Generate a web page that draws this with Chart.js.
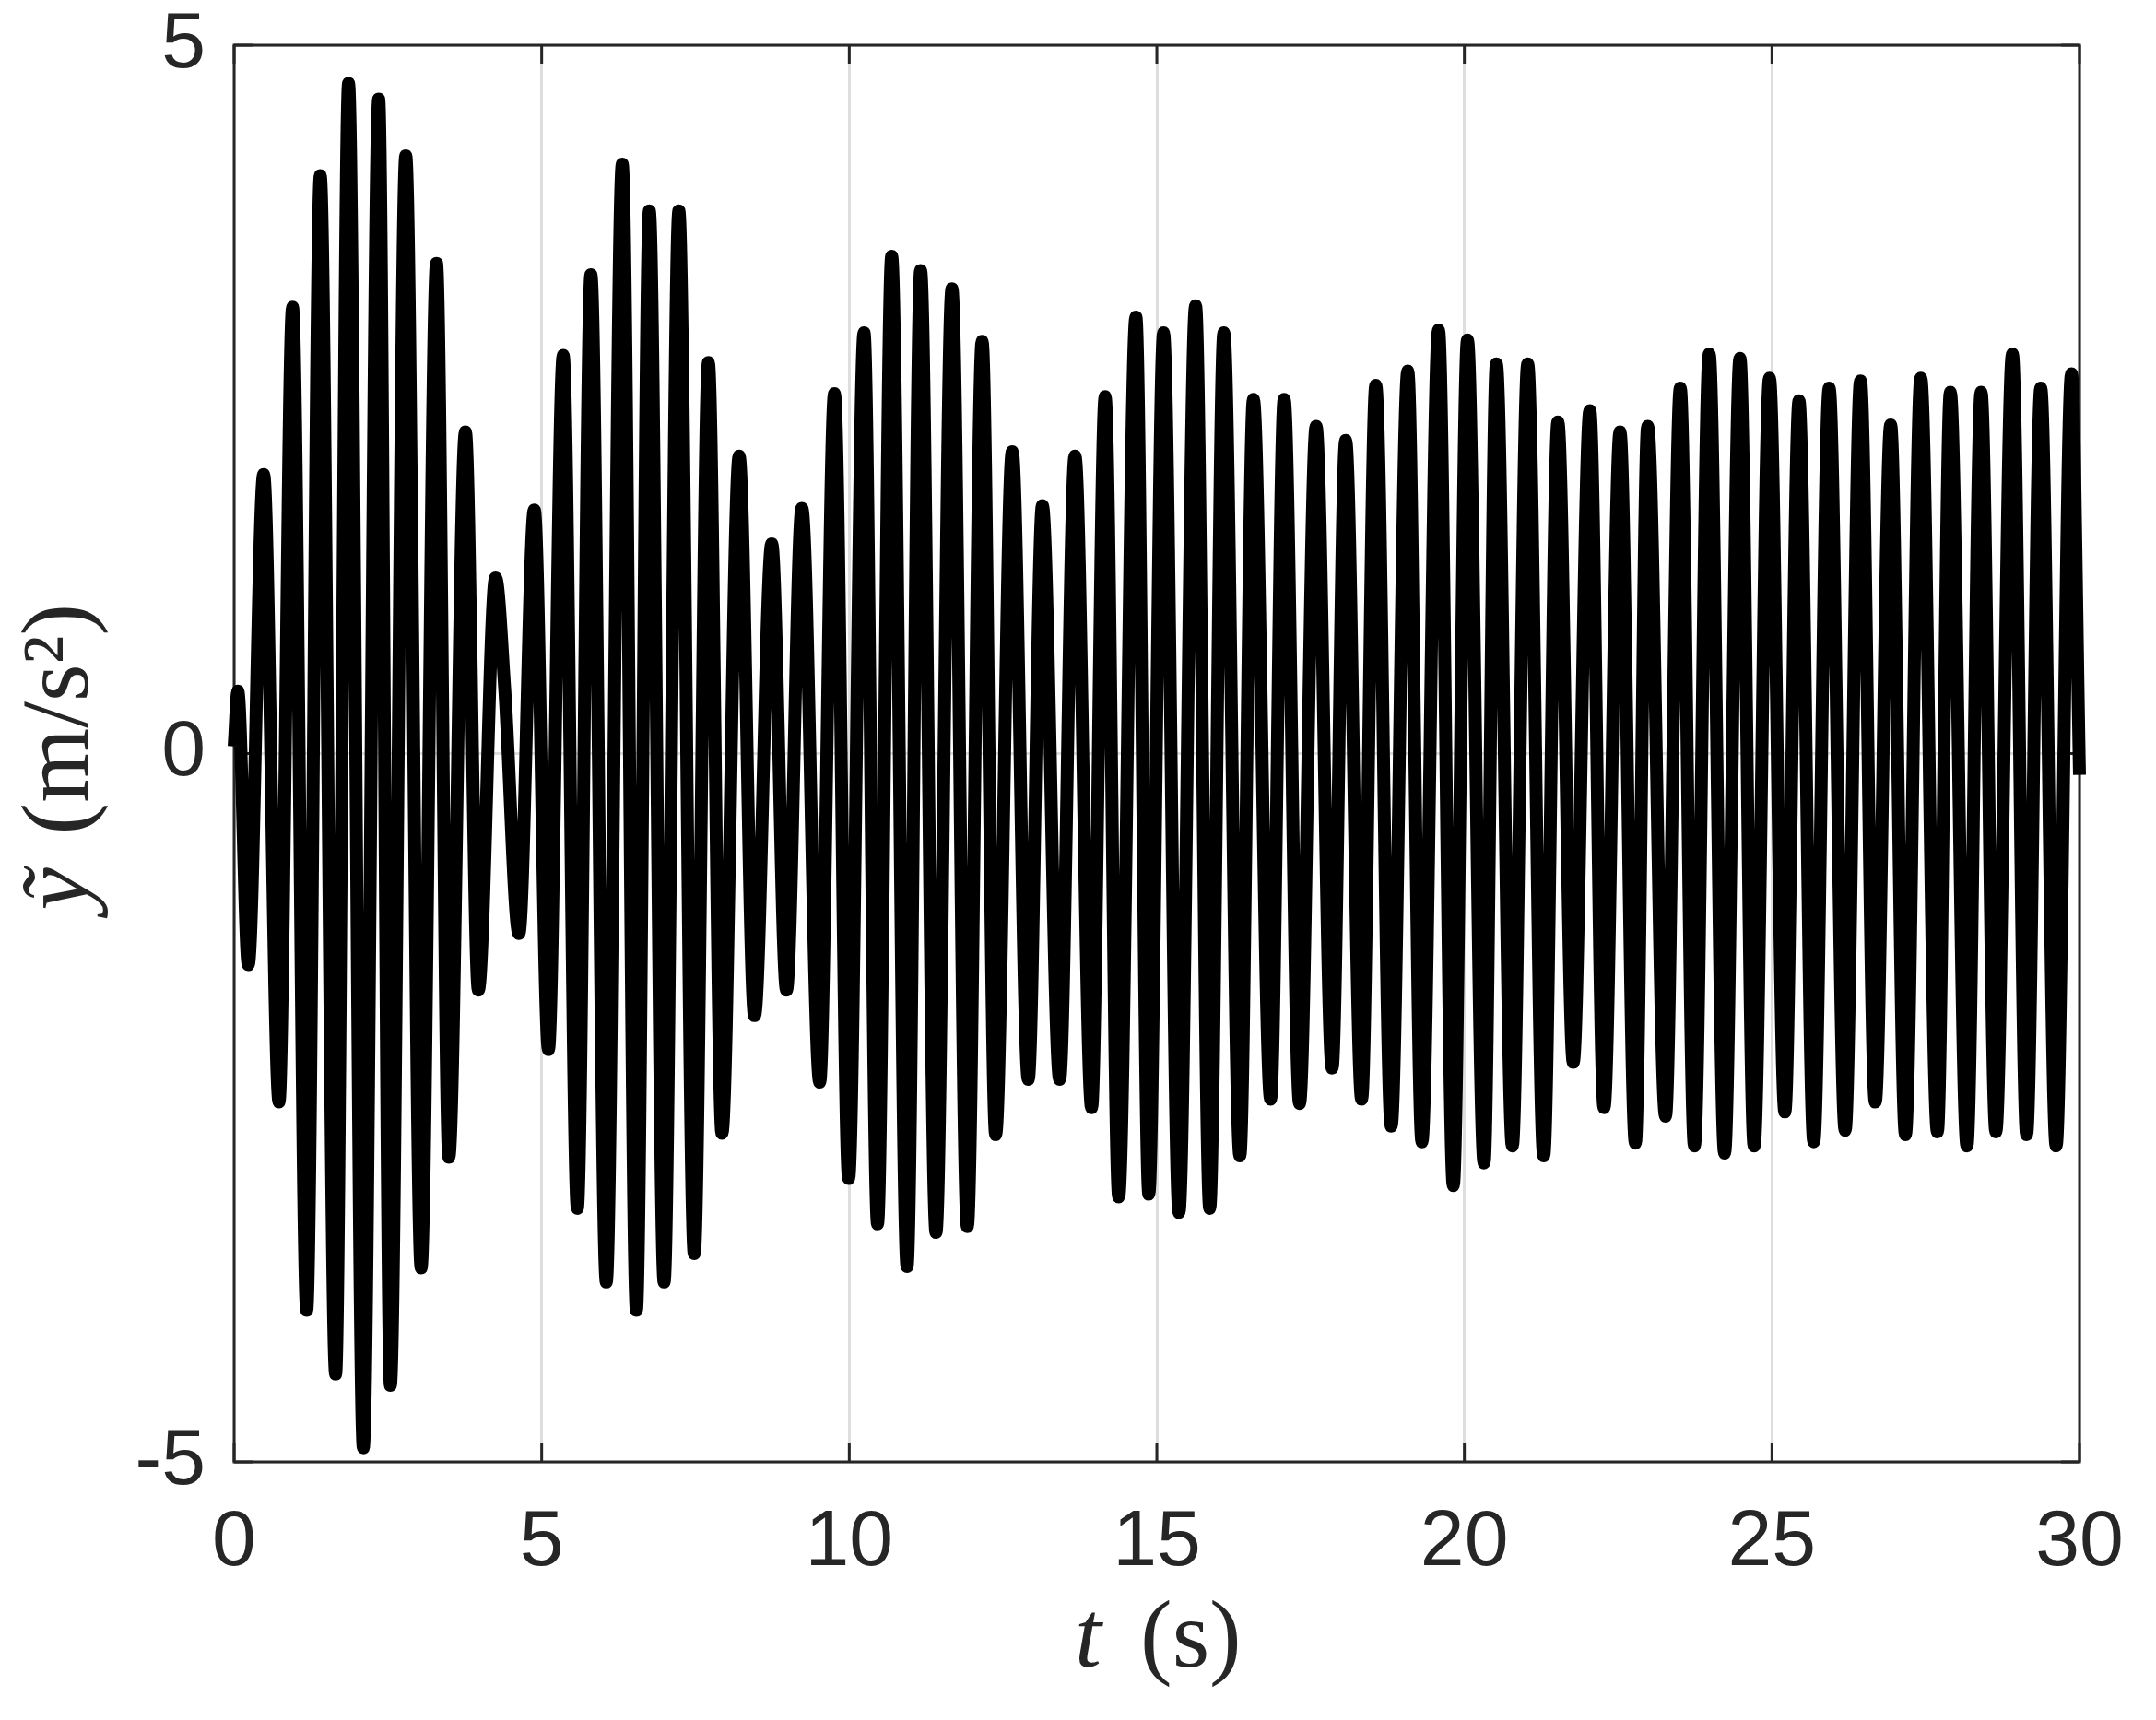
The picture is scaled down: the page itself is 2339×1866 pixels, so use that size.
<!DOCTYPE html>
<html>
<head>
<meta charset="utf-8">
<script src="https://cdn.jsdelivr.net/npm/chart.js@4.4.1/dist/chart.umd.min.js"></script>
<style>
  html, body { margin: 0; padding: 0; background: #ffffff; }
  #c { display: block; }
</style>
</head>
<body>
<canvas id="c" width="2339" height="1866" style="width:2339px;height:1866px"></canvas>
<script>
// ---- data (turning points of the signal) ----
const timeS = [
  0, 0.06, 0.23, 0.48, 0.73, 0.95, 1.18, 1.40, 1.65, 1.86,
  2.10, 2.35, 2.54, 2.79, 3.04, 3.29, 3.49, 3.76, 3.97, 4.25,
  4.40, 4.63, 4.88, 5.11, 5.35, 5.58, 5.80, 6.05, 6.31, 6.54,
  6.75, 6.99, 7.23, 7.48, 7.71, 7.93, 8.21, 8.46, 8.74, 8.98,
  9.23, 9.52, 9.76, 9.99, 10.24, 10.46, 10.69, 10.94, 11.16, 11.41,
  11.67, 11.92, 12.16, 12.38, 12.65, 12.91, 13.14, 13.42, 13.67, 13.94,
  14.16, 14.38, 14.66, 14.87, 15.11, 15.36, 15.63, 15.86, 16.09, 16.35,
  16.57, 16.85, 17.07, 17.32, 17.59, 17.85, 18.07, 18.33, 18.56, 18.81,
  19.08, 19.31, 19.58, 19.82, 20.05, 20.32, 20.52, 20.78, 21.03, 21.29,
  21.52, 21.77, 22.04, 22.27, 22.53, 22.78, 22.98, 23.27, 23.51, 23.74,
  23.98, 24.23, 24.48, 24.71, 24.96, 25.21, 25.44, 25.68, 25.93, 26.19,
  26.44, 26.68, 26.93, 27.17, 27.42, 27.69, 27.90, 28.17, 28.40, 28.64,
  28.91, 29.14, 29.37, 29.62, 29.87, 30.0
];
const accel = [
  0.05, 0.44, -1.49, 1.97, -2.46, 3.15, -3.93, 4.08, -4.38, 4.73,
  -4.90, 4.62, -4.46, 4.22, -3.63, 3.46, -2.85, 2.27, -1.67, 1.24,
  0.45, -1.27, 1.72, -2.09, 2.81, -3.21, 3.38, -3.73, 4.16, -3.93,
  3.83, -3.73, 3.83, -3.53, 2.76, -2.68, 2.10, -1.85, 1.48, -1.67,
  1.73, -2.32, 2.54, -3.00, 2.97, -3.32, 3.51, -3.62, 3.41, -3.38,
  3.28, -3.34, 2.91, -2.69, 2.13, -2.30, 1.75, -2.30, 2.10, -2.50,
  2.52, -3.13, 3.08, -3.11, 2.97, -3.24, 3.16, -3.21, 2.97, -2.84,
  2.50, -2.44, 2.50, -2.47, 2.31, -2.22, 2.21, -2.44, 2.60, -2.63,
  2.70, -2.74, 2.99, -3.05, 2.92, -2.89, 2.75, -2.77, 2.75, -2.84,
  2.34, -2.18, 2.42, -2.50, 2.27, -2.75, 2.31, -2.56, 2.58, -2.77,
  2.82, -2.82, 2.79, -2.77, 2.65, -2.53, 2.49, -2.74, 2.58, -2.66,
  2.63, -2.46, 2.32, -2.69, 2.65, -2.67, 2.55, -2.77, 2.55, -2.67,
  2.82, -2.69, 2.58, -2.77, 2.68, -0.15
];
const xTicks = [0, 5, 10, 15, 20, 25, 30];
const yTicks = [-5, 0, 5];
const xTitleVar = 't';
const xTitleUnit = '(s)';
const yTitleVar = 'ỹ';
const yTitleUnit = '(m/s²)';

// ---- styling ----
const AXIS_COLOR = '#262626';
const GRID_COLOR = '#dedede';
const TICK_FONT = { family: '"Liberation Sans", Arial, Helvetica, sans-serif', size: 86 };
const TITLE_SIZE = 104;
const TITLE_FAMILY = '"Liberation Serif", "Times New Roman", serif';

const points = timeS.map((t, i) => ({ x: t, y: accel[i] }));

const framePlugin = {
  id: 'frame',
  beforeDatasetsDraw(chart) {
    const { ctx, chartArea: a, scales } = chart;
    ctx.save();
    ctx.strokeStyle = AXIS_COLOR;
    ctx.lineWidth = 3;
    const L = 20;
    ctx.beginPath();
    xTicks.forEach(v => {
      const px = scales.x.getPixelForValue(v);
      ctx.moveTo(px, a.bottom); ctx.lineTo(px, a.bottom - L);
      ctx.moveTo(px, a.top); ctx.lineTo(px, a.top + L);
    });
    yTicks.forEach(v => {
      const py = scales.y.getPixelForValue(v);
      ctx.moveTo(a.left, py); ctx.lineTo(a.left + L, py);
      ctx.moveTo(a.right, py); ctx.lineTo(a.right - L, py);
    });
    ctx.stroke();
    ctx.strokeRect(a.left, a.top, a.right - a.left, a.bottom - a.top);
    ctx.restore();
  }
};

const titlePlugin = {
  id: 'titles',
  afterDraw(chart) {
    const { ctx, chartArea: a } = chart;
    ctx.save();
    ctx.fillStyle = AXIS_COLOR;
    ctx.textBaseline = 'alphabetic';
    ctx.textAlign = 'left';
    const italic = 'italic ' + TITLE_SIZE + 'px ' + TITLE_FAMILY;
    const upright = TITLE_SIZE + 'px ' + TITLE_FAMILY;
    // x-axis title
    const cx = (a.left + a.right) / 2;
    const by = a.bottom + 222;
    ctx.font = italic;
    ctx.fillText(xTitleVar, cx - 89, by);
    ctx.font = upright;
    ctx.fillText(xTitleUnit, cx - 18, by);
    // y-axis title (rotated)
    ctx.translate(95, (a.top + a.bottom) / 2);
    ctx.rotate(-Math.PI / 2);
    ctx.font = italic;
    ctx.fillText(yTitleVar, -170, 0);
    ctx.font = upright;
    ctx.fillText(yTitleUnit, -88, 0);
    ctx.restore();
  }
};

new Chart(document.getElementById('c'), {
  type: 'line',
  data: {
    datasets: [{
      data: points,
      borderColor: '#000000',
      borderWidth: 14,
      pointRadius: 0,
      fill: false,
      cubicInterpolationMode: 'monotone',
      borderJoinStyle: 'round',
      clip: 9
    }]
  },
  options: {
    responsive: false,
    animation: false,
    devicePixelRatio: 1,
    layout: { padding: { left: 0, right: 83, top: 49, bottom: 0 } },
    plugins: { legend: { display: false }, tooltip: { enabled: false }, title: { display: false } },
    scales: {
      x: {
        type: 'linear',
        min: 0, max: 30,
        afterBuildTicks: s => { s.ticks = xTicks.map(v => ({ value: v })); },
        afterFit: s => { s.height = 280; s.paddingLeft = 0; s.paddingRight = 0; },
        ticks: { font: TICK_FONT, color: AXIS_COLOR, padding: 37, maxRotation: 0, autoSkip: false },
        grid: { color: GRID_COLOR, lineWidth: 3, drawTicks: false },
        border: { display: false },
        title: { display: false }
      },
      y: {
        type: 'linear',
        min: -5, max: 5,
        afterBuildTicks: s => { s.ticks = yTicks.map(v => ({ value: v })); },
        afterFit: s => { s.width = 254; s.paddingTop = 0; s.paddingBottom = 0; },
        ticks: { font: TICK_FONT, color: AXIS_COLOR, padding: 31, autoSkip: false },
        grid: { color: GRID_COLOR, lineWidth: 3, drawTicks: false },
        border: { display: false },
        title: { display: false }
      }
    }
  },
  plugins: [framePlugin, titlePlugin]
});
</script>
</body>
</html>
